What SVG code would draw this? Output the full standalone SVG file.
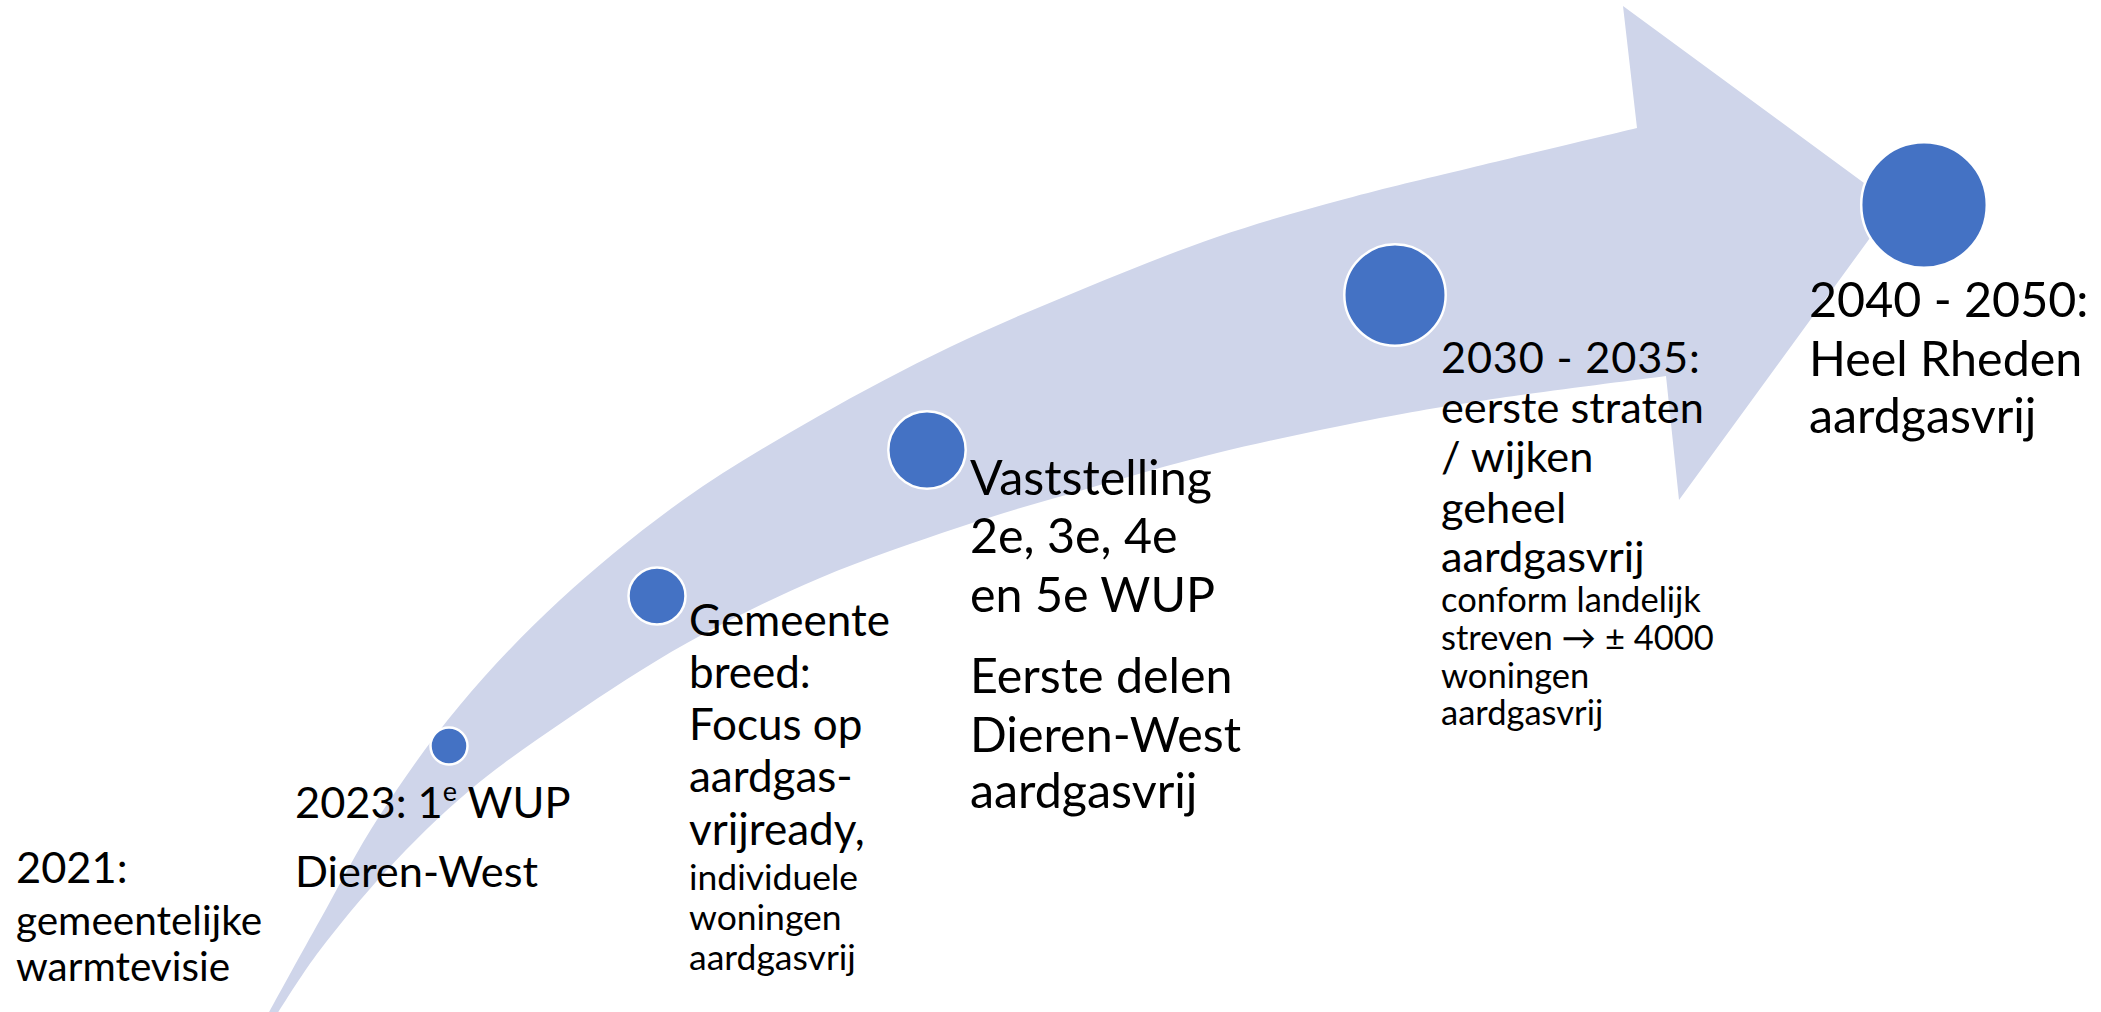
<svg xmlns="http://www.w3.org/2000/svg" width="2101" height="1012" viewBox="0 0 2101 1012">
<style>
text { font-family: Lato, "Liberation Sans", "DejaVu Sans", sans-serif; fill: #000000; }
.dot { fill: #4472C4; stroke: #FFFFFF; stroke-width: 2.5; }
.band { fill: #CFD5EA; }
</style>
<rect x="0" y="0" width="2101" height="1012" fill="#FFFFFF"/>
<g id="connectors">
<path class="band" d="M 268,1014 C 276.7,998.3 301.3,953.2 320,920 C 338.7,886.8 356.7,850.8 380,815 C 403.3,779.2 430,740.8 460,705 C 490,669.2 522.8,634.2 560,600 C 597.2,565.8 640.2,530.5 683,500 C 725.8,469.5 772.5,442.5 817,417 C 861.5,391.5 905.7,368.3 950,347 C 994.3,325.7 1038.5,307.3 1083,289 C 1127.5,270.7 1173.3,252 1217,237 C 1260.7,222 1302.8,210.5 1345,199 C 1387.2,187.5 1421.3,179.8 1470,168 C 1518.7,156.2 1609.2,134.7 1637,128 L 1623,6 L 1894,205 L 1679,500 L 1666,376 C 1638.3,379.7 1549.3,390.7 1500,398 C 1450.7,405.3 1417.2,410.8 1370,420 C 1322.8,429.2 1264.8,441.3 1217,453 C 1169.2,464.7 1125.8,477.7 1083,490 C 1040.2,502.3 1003.8,512.3 960,527 C 916.2,541.7 865.5,558.7 820,578 C 774.5,597.3 728.7,619.8 687,643 C 645.3,666.2 606.2,692.5 570,717 C 533.8,741.5 500.5,764.5 470,790 C 439.5,815.5 412,843.3 387,870 C 362,896.7 338.3,926 320,950 C 301.7,974 284.2,1003.3 277,1014 Z"/>
</g>
<g id="node-2021">
<text x="16" y="883" font-size="43.4">2021:</text>
<text x="16" y="935" font-size="40.5">gemeentelijke</text>
<text x="16" y="981" font-size="40.5">warmtevisie</text>
</g>
<g id="node-2023">
<circle class="dot" cx="449" cy="746" r="18.5"/>
<text x="295" y="818" font-size="43.4">2023: 1<tspan font-size="27" dy="-17">e</tspan><tspan dy="17"> WUP</tspan></text>
<text x="295" y="887" font-size="43.4">Dieren-West</text>
</g>
<g id="node-gemeente">
<circle class="dot" cx="657" cy="596" r="28.5"/>
<text x="689" y="636" font-size="44">Gemeente</text>
<text x="689" y="688" font-size="44">breed:</text>
<text x="689" y="740" font-size="44">Focus op</text>
<text x="689" y="792" font-size="44">aardgas-</text>
<text x="689" y="845" font-size="44">vrijready,</text>
<text x="689" y="890" font-size="35.5">individuele</text>
<text x="689" y="930" font-size="35.5">woningen</text>
<text x="689" y="970" font-size="35.5">aardgasvrij</text>
</g>
<g id="node-vaststelling">
<circle class="dot" cx="927" cy="450" r="38.7"/>
<text x="970" y="495" font-size="48.4">Vaststelling</text>
<text x="970" y="553" font-size="48.4">2e, 3e, 4e</text>
<text x="970" y="612" font-size="48.4">en 5e WUP</text>
<text x="970" y="693" font-size="48.4">Eerste delen</text>
<text x="970" y="752" font-size="48.4">Dieren-West</text>
<text x="970" y="808" font-size="48.4">aardgasvrij</text>
</g>
<g id="node-2030">
<circle class="dot" cx="1395" cy="295" r="50.7"/>
<text x="1441" y="373" font-size="43.3" letter-spacing="0.8">2030 - 2035:</text>
<text x="1441" y="423" font-size="43.3">eerste straten</text>
<text x="1441" y="472" font-size="43.3">/ wijken</text>
<text x="1441" y="523" font-size="43.3">geheel</text>
<text x="1441" y="572" font-size="43.3">aardgasvrij</text>
<text x="1441" y="612" font-size="34.5">conform landelijk</text>
<text x="1441" y="650" font-size="34.5">streven → ± 4000</text>
<text x="1441" y="688" font-size="34.5">woningen</text>
<text x="1441" y="725" font-size="34.5">aardgasvrij</text>
</g>
<g id="node-2040">
<circle class="dot" cx="1924" cy="205" r="62.8"/>
<text x="1809" y="317" font-size="48.4">2040 - 2050:</text>
<text x="1809" y="376" font-size="48.4">Heel Rheden</text>
<text x="1809" y="433" font-size="48.4">aardgasvrij</text>
</g>
</svg>
